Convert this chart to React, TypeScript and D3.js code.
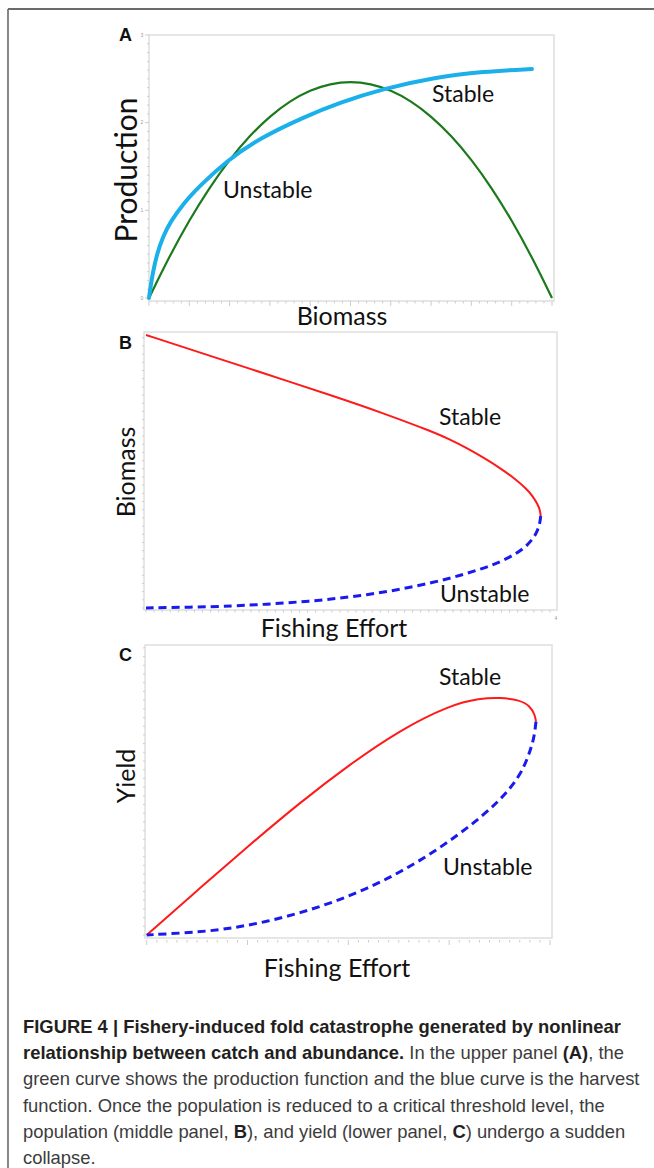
import React from "react";
import * as d3 from "d3";

// ---- Panel A: production (green) and harvest (blue) against biomass ----
const biomassA = [0, 5, 10, 15, 20, 25, 30, 35, 40, 45, 50, 55, 60, 65, 70, 75, 80, 85, 90, 95, 100];
const productionA = [0, 0.469, 0.889, 1.26, 1.581, 1.853, 2.075, 2.248, 2.371, 2.445, 2.47, 2.445, 2.371, 2.248, 2.075, 1.853, 1.581, 1.26, 0.889, 0.469, 0];
const harvestBiomassA = [0, 0.372, 0.918, 1.911, 3.474, 5.211, 8.511, 12.655, 19.355, 27.543, 38.462, 47.395, 57.816, 70.546, 82.953, 95.037];
const harvestA = [0, 0.125, 0.279, 0.496, 0.702, 0.861, 1.078, 1.283, 1.568, 1.825, 2.065, 2.23, 2.384, 2.515, 2.584, 2.612];
const yTicksA = [0, 1, 2, 3];

// ---- Panel B: equilibrium biomass against fishing effort ----
const stableEffortB = [0, 0.535, 1.129, 1.851, 2.347, 2.842, 3.01, 3.175, 3.34, 3.505, 3.637, 3.769, 3.832, 3.876, 3.901, 3.908];
const stableBiomassB = [1.0, 0.936, 0.864, 0.777, 0.714, 0.645, 0.617, 0.586, 0.551, 0.513, 0.478, 0.436, 0.408, 0.381, 0.359, 0.337];
const unstableEffortB = [3.908, 3.901, 3.876, 3.832, 3.752, 3.67, 3.505, 3.337, 3.109, 2.842, 2.515, 2.185, 1.851, 1.525, 1.195, 0.861, 0.436, 0];
const unstableBiomassB = [0.337, 0.313, 0.282, 0.253, 0.222, 0.2, 0.168, 0.145, 0.119, 0.093, 0.068, 0.048, 0.033, 0.022, 0.014, 0.007, 0.003, 0];

// ---- Panel C: yield against fishing effort ----
const stableEffortC = [0, 0.529, 1.025, 1.521, 2.016, 2.512, 3.008, 3.305, 3.504, 3.702, 3.801, 3.851, 3.861];
const stableYieldC = [0, 0.162, 0.312, 0.457, 0.589, 0.707, 0.793, 0.816, 0.819, 0.81, 0.79, 0.759, 0.736];
const unstableEffortC = [3.861, 3.846, 3.821, 3.782, 3.702, 3.504, 3.174, 2.843, 2.512, 2.182, 1.851, 1.521, 1.19, 0.859, 0.529, 0];
const unstableYieldC = [0.736, 0.69, 0.655, 0.614, 0.548, 0.462, 0.366, 0.285, 0.216, 0.159, 0.113, 0.076, 0.046, 0.024, 0.01, 0];

// ---- Caption ----
type Seg = [string, boolean];
const captionLines: Seg[][] = [
  [["FIGURE 4 | Fishery-induced fold catastrophe generated by nonlinear", true]],
  [
    ["relationship between catch and abundance.", true],
    [" In the upper panel ", false],
    ["(A)", true],
    [", the", false],
  ],
  [["green curve shows the production function and the blue curve is the harvest", false]],
  [["function. Once the population is reduced to a critical threshold level, the", false]],
  [
    ["population (middle panel, ", false],
    ["B", true],
    ["), and yield (lower panel, ", false],
    ["C", true],
    [") undergo a sudden", false],
  ],
  [["collapse.", false]],
];

const LABEL_FONT = "Lato, 'Open Sans', sans-serif";
const LETTER_FONT = "'Liberation Sans', Arial, sans-serif";
const TICK = "#cdcdcd";
const FRAME = "#dcdcdc";

const zip = (xs: number[], ys: number[]) => xs.map((x, i) => [x, ys[i]] as [number, number]);

// Panel geometry and scales
const xA = d3.scaleLinear().domain([0, 100]).range([149, 552]);
const yA = d3.scaleLinear().domain([0, 3]).range([298, 35]);
const boxA = { l: 149, t: 35, r: 554, b: 301 };

const xB = d3.scaleLinear().domain([0, 4]).range([146, 550]);
const yB = d3.scaleLinear().domain([0, 1]).range([608, 335]);
const boxB = { l: 144, t: 332, r: 557, b: 610 };

const xC = d3.scaleLinear().domain([0, 4]).range([146.7, 550]);
const yC = d3.scaleLinear().domain([0, 1]).range([935, 645]);
const boxC = { l: 145, t: 645, r: 552, b: 938 };

function pathFor(
  xs: number[],
  ys: number[],
  x: d3.ScaleLinear<number, number>,
  y: d3.ScaleLinear<number, number>
) {
  return (
    d3
      .line<[number, number]>()
      .x((d) => x(d[0]))
      .y((d) => y(d[1]))
      .curve(d3.curveBasis)(zip(xs, ys)) || ""
  );
}

type Box = { l: number; t: number; r: number; b: number };

function Frame({ box }: { box: Box }) {
  return (
    <rect
      x={box.l}
      y={box.t}
      width={box.r - box.l}
      height={box.b - box.t}
      fill="#fff"
      stroke={FRAME}
      strokeWidth={1.4}
    />
  );
}

function BottomTicks({
  values,
  x,
  y0,
  isMajor,
}: {
  values: number[];
  x: d3.ScaleLinear<number, number>;
  y0: number;
  isMajor: (v: number, i: number) => boolean;
}) {
  return (
    <g stroke={TICK} strokeWidth={1}>
      {values.map((v, i) => (
        <line key={i} x1={x(v)} x2={x(v)} y1={y0} y2={y0 + (isMajor(v, i) ? 5 : 2.5)} />
      ))}
    </g>
  );
}

function LeftTicks({
  values,
  y,
  x0,
  isMajor,
}: {
  values: number[];
  y: d3.ScaleLinear<number, number>;
  x0: number;
  isMajor: (v: number, i: number) => boolean;
}) {
  return (
    <g stroke={TICK} strokeWidth={1}>
      {values.map((v, i) => (
        <line key={i} x1={x0} x2={x0 - (isMajor(v, i) ? 4 : 2)} y1={y(v)} y2={y(v)} />
      ))}
    </g>
  );
}

export default function App() {
  const lineY0 = 1033;
  const lineGap = 26.2;

  return (
    <svg
      width={654}
      height={1168}
      viewBox="0 0 654 1168"
      style={{ position: "absolute", left: 0, top: 0, background: "#fff" }}
    >
      <rect x={0} y={0} width={654} height={1168} fill="#fff" />
      {/* outer figure frame */}
      <line x1={8} x2={654} y1={9} y2={9} stroke="#3a3a3a" strokeWidth={1.6} />
      <line x1={8} x2={8} y1={9} y2={1168} stroke="#6a6a6a" strokeWidth={1.6} />

      {/* ===== Panel A ===== */}
      <Frame box={boxA} />
      <BottomTicks values={d3.range(0, 100.001, 2)} x={xA} y0={boxA.b} isMajor={(_, i) => i % 5 === 0} />
      <LeftTicks values={d3.range(0, 3.001, 0.1)} y={yA} x0={boxA.l} isMajor={(_, i) => i % 10 === 0} />
      {yTicksA.map((v) => (
        <text key={v} x={142} y={yA(v) + 1.8} fontSize={5} fill="#9a9a9a" textAnchor="middle" fontFamily={LETTER_FONT}>
          {v}
        </text>
      ))}
      <path d={pathFor(biomassA, productionA, xA, yA)} fill="none" stroke="#1c7a1c" strokeWidth={2.2} />
      <path d={pathFor(harvestBiomassA, harvestA, xA, yA)} fill="none" stroke="#1cb0ea" strokeWidth={4} strokeLinecap="round" />
      <text x={432} y={102} fontSize={23} fontFamily={LABEL_FONT} fill="#111">Stable</text>
      <text x={223} y={198} fontSize={23} fontFamily={LABEL_FONT} fill="#111">Unstable</text>
      <text transform="translate(137,170) rotate(-90)" textAnchor="middle" fontSize={30} fontFamily={LABEL_FONT} fill="#111">
        Production
      </text>
      <text x={342} y={325} textAnchor="middle" fontSize={25} fontFamily={LABEL_FONT} fill="#111">Biomass</text>
      <text x={119} y={40.5} fontSize={18} fontWeight="bold" fontFamily={LETTER_FONT} fill="#111">A</text>

      {/* ===== Panel B ===== */}
      <Frame box={boxB} />
      <BottomTicks values={d3.range(0, 4.05, 0.08)} x={xB} y0={boxB.b} isMajor={() => false} />
      <LeftTicks values={d3.range(0, 1.01, 0.03)} y={yB} x0={boxB.l} isMajor={() => false} />
      <text x={556} y={620} fontSize={5} fill="#9a9a9a" textAnchor="middle" fontFamily={LETTER_FONT}>4</text>
      <path d={pathFor(stableEffortB, stableBiomassB, xB, yB)} fill="none" stroke="#ff1a1a" strokeWidth={2} />
      <path
        d={pathFor(unstableEffortB, unstableBiomassB, xB, yB)}
        fill="none"
        stroke="#1a1aee"
        strokeWidth={3}
        strokeDasharray="8,5"
      />
      <text x={439} y={425} fontSize={23} fontFamily={LABEL_FONT} fill="#111">Stable</text>
      <text x={440} y={602} fontSize={23} fontFamily={LABEL_FONT} fill="#111">Unstable</text>
      <text transform="translate(135,472) rotate(-90)" textAnchor="middle" fontSize={25} fontFamily={LABEL_FONT} fill="#111">
        Biomass
      </text>
      <text x={334} y={637} textAnchor="middle" fontSize={25} fontFamily={LABEL_FONT} fill="#111">Fishing Effort</text>
      <text x={119} y={348.5} fontSize={18} fontWeight="bold" fontFamily={LETTER_FONT} fill="#111">B</text>

      {/* ===== Panel C ===== */}
      <Frame box={boxC} />
      <BottomTicks values={d3.range(0, 4.001, 0.1)} x={xC} y0={boxC.b + 2} isMajor={(_, i) => i % 10 === 0} />
      <LeftTicks values={d3.range(0, 1.01, 0.03)} y={yC} x0={boxC.l} isMajor={() => false} />
      <path d={pathFor(stableEffortC, stableYieldC, xC, yC)} fill="none" stroke="#ff1a1a" strokeWidth={2} />
      <path
        d={pathFor(unstableEffortC, unstableYieldC, xC, yC)}
        fill="none"
        stroke="#1a1aee"
        strokeWidth={3}
        strokeDasharray="8,5"
      />
      <text x={439} y={685} fontSize={23} fontFamily={LABEL_FONT} fill="#111">Stable</text>
      <text x={443} y={875} fontSize={23} fontFamily={LABEL_FONT} fill="#111">Unstable</text>
      <text transform="translate(135,776) rotate(-90)" textAnchor="middle" fontSize={25} fontFamily={LABEL_FONT} fill="#111">
        Yield
      </text>
      <text x={337} y={977} textAnchor="middle" fontSize={25} fontFamily={LABEL_FONT} fill="#111">Fishing Effort</text>
      <text x={119} y={660.5} fontSize={18} fontWeight="bold" fontFamily={LETTER_FONT} fill="#111">C</text>

      {/* ===== Caption ===== */}
      <g fontFamily={LETTER_FONT} fontSize={18.4}>
        {captionLines.map((segs, li) => (
          <text key={li} x={23} y={lineY0 + li * lineGap}>
            {segs.map(([t, bold], si) => (
              <tspan
                key={si}
                fontWeight={bold ? "bold" : "normal"}
                fill={bold ? "#231f20" : "#3c3c3c"}
                style={{ whiteSpace: "pre" }}
              >
                {t}
              </tspan>
            ))}
          </text>
        ))}
      </g>
    </svg>
  );
}
